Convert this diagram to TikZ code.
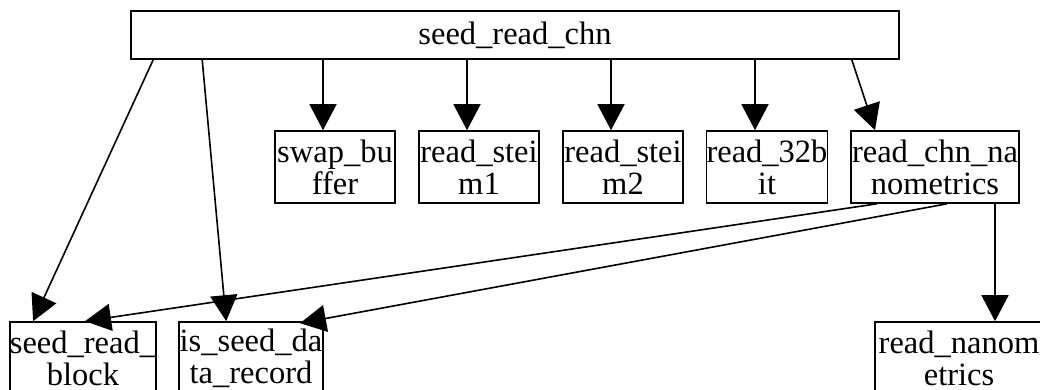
\documentclass[tikz,border=0pt]{standalone}
\usepackage{fontspec}
\setmainfont{Liberation Serif}
\usetikzlibrary{arrows.meta,calc}
\begin{document}
\begin{tikzpicture}[x=1pt,y=-1pt,
  fn/.style={draw, line width=1.6pt, inner sep=0pt, align=center,
    font=\fontsize{32.5pt}{32pt}\selectfont},
  call/.style={line width=1.6pt, -{Triangle[length=26pt,width=27pt]}}]
\useasboundingbox (0,0) rectangle (1040,389);
\begin{scope}
\clip (0,0) rectangle (1040,389);
% call graph nodes
\node[fn, minimum width=768pt, minimum height=48pt] (top) at (515,35) {seed\_read\_chn};
\node[fn, minimum width=120pt, minimum height=72pt] (swap) at (335,167) {swap\_bu\\ffer};
\node[fn, minimum width=120pt, minimum height=72pt] (st1) at (479,167) {read\_stei\\m1};
\node[fn, minimum width=120pt, minimum height=72pt] (st2) at (623,167) {read\_stei\\m2};
\node[fn, minimum width=120pt, minimum height=72pt] (r32) at (767,167) {read\_32b\\it};
\node[fn, minimum width=168pt, minimum height=72pt] (chn) at (935,167) {read\_chn\_na\\nometrics};
\node[fn, minimum width=144pt, minimum height=72pt] (blk) at (83,358) {seed\_read\_\\block};
\node[fn, minimum width=144pt, minimum height=72pt] (isd) at (251,358) {is\_seed\_da\\ta\_record};
\node[fn, minimum width=168pt, minimum height=72pt] (nan) at (959,358) {read\_nanom\\etrics};
% calls
\draw[call] ([xshift=23pt]top.south west) -- ([xshift=24pt]blk.north west);
\draw[call] ([xshift=72pt]top.south west) -- ([xshift=48pt]isd.north west);
\draw[call] (top.south -| {$(swap.north)+(-12,0)$}) -- ($(swap.north)+(-12,0)$);
\draw[call] (top.south -| {$(st1.north)+(-12,0)$}) -- ($(st1.north)+(-12,0)$);
\draw[call] (top.south -| {$(st2.north)+(-12,0)$}) -- ($(st2.north)+(-12,0)$);
\draw[call] (top.south -| {$(r32.north)+(-12,0)$}) -- ($(r32.north)+(-12,0)$);
\draw[call] ([xshift=-48pt]top.south east) -- ([xshift=-60pt]chn.north);
\draw[call] ([xshift=-58pt]chn.south) -- ([xshift=2pt]blk.north);
\draw[call] ([xshift=12pt]chn.south) -- ([xshift=49pt,yshift=-2pt]isd.north);
\draw[call] (chn.south -| {$(nan.north)+(36,0)$}) -- ($(nan.north)+(36,0)$);
\end{scope}
\end{tikzpicture}
\end{document}
